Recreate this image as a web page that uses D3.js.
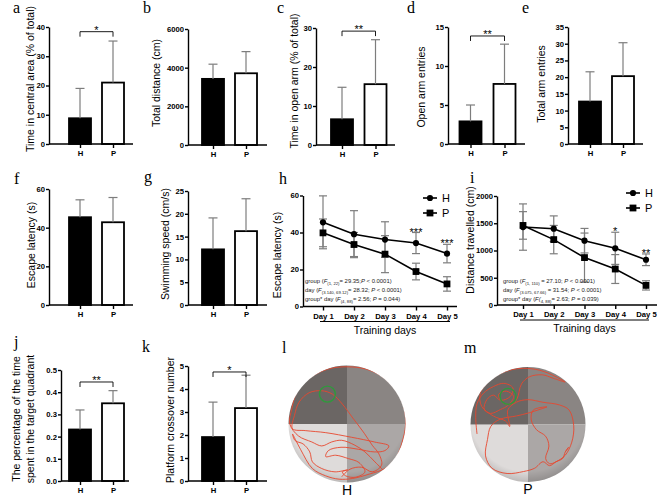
<!DOCTYPE html>
<html>
<head>
<meta charset="utf-8">
<script src="https://cdn.jsdelivr.net/npm/d3@7"></script>
<style>
  body { margin: 0; background: #fff; }
  text { font-family: "Liberation Sans", Arial, sans-serif; }
</style>
</head>
<body>
<svg id="fig" width="669" height="497"></svg>
<script>
// ---------- data ----------
const groups = ["H", "P"];

const centralMean = [8.8, 21.0],   centralSD = [10.2, 14.2];   // a
const distanceMean = [3420, 3710], distanceSD = [760, 1120];   // b
const openTimeMean = [6.6, 15.6],  openTimeSD = [8.2, 11.4];   // c
const openEntryMean = [2.9, 7.7],  openEntrySD = [2.1, 5.1];   // d
const totalEntryMean = [12.7, 20.3], totalEntrySD = [8.9, 10.0]; // e
const escapeMean = [45.4, 42.8],   escapeSD = [9.0, 12.8];     // f
const speedMean = [12.2, 16.2],    speedSD = [6.9, 7.1];       // g
const quadrantMean = [0.232, 0.35], quadrantSD = [0.088, 0.057]; // j
const crossMean = [1.91, 3.17],    crossSD = [1.52, 1.43];     // k

const days = ["Day 1", "Day 2", "Day 3", "Day 4", "Day 5"];
const latencyH = [45.5, 39.1, 36.2, 34.3, 28.6], latencyHSD = [14.3, 12.7, 9.6, 5.7, 5.0];
const latencyP = [39.8, 33.5, 28.3, 18.9, 12.2], latencyPSD = [7.5, 6.5, 10.0, 4.5, 3.9];
const latencyStars = ["", "", "", "***", "***"];
const travelH = [1430, 1400, 1180, 1040, 830], travelHSD = [425, 235, 225, 295, 107];
const travelP = [1460, 1200, 870, 660, 360],   travelPSD = [253, 260, 450, 265, 85];
const travelStars = ["", "", "", "*", "**"];

const statsLatency = [
  [["group ("], ["F", "i"], ["(1, 22)", "s"], ["= 29.35;"], ["P", "i"], [" < 0.0001)"]],
  [["day ("], ["F", "i"], ["(3.140, 69.12)", "s"], ["= 28.32; "], ["P", "i"], [" < 0.0001)"]],
  [["group* day ("], ["F", "i"], ["(4, 88)", "s"], ["= 2.56; "], ["P", "i"], [" = 0.044)"]]
];
const statsTravel = [
  [["group ("], ["F", "i"], ["(1, 110)", "s"], [" = 27.10; "], ["P", "i"], [" < 0.0001)"]],
  [["day ("], ["F", "i"], ["(3.075, 67.66)", "s"], [" = 31.54; "], ["P", "i"], [" < 0.0001)"]],
  [["group* day ("], ["F(", "i"], ["4, 88)", "s"], ["= 2.63; "], ["P", "i"], [" = 0.039)"]]
];

// swim paths in tracking-camera pixels (pool spans 10..362)
const trackH = [[170,345],[195,322],[230,316],[262,330],[290,310],[282,276],[262,250],[238,214],[205,170],[172,126],[142,96],[110,86],[72,92],[42,120],[28,160],[22,200],[62,206],[122,212],[200,226],[268,240],[312,252],[300,266],[268,270],[220,262],[168,256],[130,266],[122,284],[152,280],[190,290],[222,302],[240,330],[212,346],[182,342],[172,330],[188,324],[150,330],[110,320],[82,300],[74,270],[54,246],[30,236],[22,216],[46,262],[82,320],[122,342],[162,352],[202,350],[252,337],[300,320],[332,290],[352,240],[362,190],[356,130],[330,80],[290,42],[240,20],[190,14],[140,18],[92,36],[56,62],[34,92],[20,140],[14,186],[40,222],[80,240],[110,252],[140,240],[170,235],[210,250],[240,270],[270,300],[300,330]];
const trackP = [[30,215],[26,165],[30,122],[50,90],[80,70],[112,60],[140,74],[132,100],[102,112],[80,96],[60,110],[52,140],[72,152],[102,140],[124,128],[142,100],[120,84],[96,94],[110,120],[134,124],[152,108],[166,62],[190,40],[230,34],[262,44],[300,56],[272,40],[222,20],[172,14],[130,20],[90,36],[60,60],[40,90],[44,130],[80,160],[118,176],[130,192],[124,142],[150,118],[186,110],[232,118],[282,126],[312,142],[326,190],[320,240],[300,280],[272,300],[252,306],[240,290],[250,252],[240,222],[212,202],[196,172],[202,142],[244,132],[190,150],[150,160],[100,170],[72,192],[62,232],[56,282],[76,320],[122,336],[172,330],[206,320],[232,300],[252,312],[272,300],[292,290],[300,270],[310,256],[302,268]];
const platformH = [127, 96], platformP = [125, 100];

// ---------- helpers ----------
const svg = d3.select("#fig");
const errColor = "#7d7d7d";

function panelLetter(t, x, y) {
  svg.append("text").attr("x", x).attr("y", y)
    .style("font-family", "'Liberation Serif', 'Times New Roman', serif")
    .attr("font-size", 16).text(t);
}

function rotLabel(lines, xc, yc, size) {
  const g = svg.append("g").attr("transform", `translate(${xc + size * 0.35 - (lines.length - 1) * size * 0.7},${yc}) rotate(-90)`);
  lines.forEach((l, i) => g.append("text").attr("y", i * size * 1.35)
    .attr("text-anchor", "middle").attr("font-size", size).text(l));
}

function styleAxis(sel) {
  sel.selectAll("path, line").attr("stroke", "#000").attr("stroke-width", 1.4);
  sel.selectAll("text").attr("font-size", 7.7).attr("font-weight", "bold").attr("fill", "#000");
}

function errBar(g, x, yA, yB, cap) {
  g.append("line").attr("x1", x).attr("x2", x).attr("y1", yA).attr("y2", yB)
    .attr("stroke", errColor).attr("stroke-width", 1.2);
  g.append("line").attr("x1", x - cap).attr("x2", x + cap).attr("y1", yB).attr("y2", yB)
    .attr("stroke", errColor).attr("stroke-width", 1.2);
}

function barPanel(c) {
  const g = svg.append("g");
  const y = d3.scaleLinear().domain([0, c.max]).range([c.y0, c.yTop]);
  const x = d3.scalePoint().domain(groups).range([c.hx, c.px]);
  const bw = 22;
  const rows = groups.map((k, i) => ({ k, m: c.mean[i], sd: c.sd[i], i }));

  g.selectAll("rect").data(rows).join("rect")
    .attr("x", d => x(d.k) - bw / 2).attr("width", bw)
    .attr("y", d => y(d.m)).attr("height", d => y(0) - y(d.m))
    .attr("fill", d => d.i ? "#fff" : "#000")
    .attr("stroke", "#000").attr("stroke-width", 1.8);
  rows.forEach(d => errBar(g, x(d.k), y(d.m), y(d.m + d.sd), 4.5));

  const ya = g.append("g").attr("transform", `translate(${c.ax},0)`)
    .call(d3.axisLeft(y).tickValues(c.ticks).tickFormat(c.fmt || d3.format("d"))
      .tickSize(3).tickSizeOuter(0).tickPadding(1));
  styleAxis(ya);
  const xa = g.append("g").attr("transform", `translate(0,${c.y0})`)
    .call(d3.axisBottom(x).tickSize(4).tickPadding(3));
  xa.select(".domain").remove();
  styleAxis(xa);
  g.append("line").attr("x1", c.ax).attr("x2", c.xEnd).attr("y1", c.y0).attr("y2", c.y0)
    .attr("stroke", "#000").attr("stroke-width", 1.4);

  if (c.sig) {
    const by = y(c.sig[1]);
    g.append("path").attr("d", `M${x("H")},${by + 5}V${by}H${x("P")}V${by + 5}`)
      .attr("fill", "none").attr("stroke", "#000").attr("stroke-width", 0.9);
    g.append("text").attr("x", (x("H") + x("P")) / 2).attr("y", by + 2)
      .attr("text-anchor", "middle").attr("font-size", 11).text(c.sig[0]);
  }
  rotLabel(c.label, c.lx, c.ly, 10.5);
  panelLetter(c.letter, c.tx, c.ty);
}

function richText(g, x, y, segs, size) {
  const t = g.append("text").attr("x", x).attr("y", y).attr("font-size", size).attr("fill", "#222");
  let shifted = false;
  segs.forEach(s => {
    const ts = t.append("tspan").text(s[0]);
    if (s[1] === "i") ts.attr("font-style", "italic");
    if (s[1] === "s") { ts.attr("font-size", size * 0.72).attr("dy", size * 0.3); shifted = true; }
    else if (shifted) { ts.attr("dy", -size * 0.3); shifted = false; }
  });
}

function linePanel(c) {
  const g = svg.append("g");
  const y = d3.scaleLinear().domain([0, c.max]).range([c.y0, c.yTop]);
  const x = d3.scalePoint().domain(days).range([c.d1, c.d5]);
  const ser = [
    { v: c.h, sd: c.hsd, shape: "circle" },
    { v: c.p, sd: c.psd, shape: "square" }
  ];
  ser.forEach(s => days.forEach((d, i) => {
    errBar(g, x(d), y(s.v[i]), y(s.v[i] + s.sd[i]), 4);
    errBar(g, x(d), y(s.v[i]), y(s.v[i] - s.sd[i]), 4);
  }));
  const line = d3.line().x((v, i) => x(days[i])).y(v => y(v));
  ser.forEach(s => {
    g.append("path").attr("d", line(s.v)).attr("fill", "none")
      .attr("stroke", "#000").attr("stroke-width", 1.6);
    days.forEach((d, i) => marker(g, s.shape, x(d), y(s.v[i])));
  });
  days.forEach((d, i) => {
    if (!c.stars[i]) return;
    g.append("text").attr("x", x(d)).attr("y", y(c.h[i] + c.hsd[i]) + 3)
      .attr("text-anchor", "middle").attr("font-size", 11).text(c.stars[i]);
  });

  const ya = g.append("g").attr("transform", `translate(${c.ax},0)`)
    .call(d3.axisLeft(y).tickValues(c.ticks).tickFormat(d3.format("d"))
      .tickSize(3).tickSizeOuter(0).tickPadding(1));
  styleAxis(ya);
  const xa = g.append("g").attr("transform", `translate(0,${c.y0})`)
    .call(d3.axisBottom(x).tickSize(4).tickPadding(3));
  xa.select(".domain").remove();
  styleAxis(xa);
  g.append("line").attr("x1", c.ax).attr("x2", c.xEnd).attr("y1", c.y0).attr("y2", c.y0)
    .attr("stroke", "#000").attr("stroke-width", 1.4);
  g.append("line").attr("x1", c.d1 - 3).attr("x2", c.d5 + 3).attr("y1", c.y0 + 15).attr("y2", c.y0 + 15)
    .attr("stroke", "#000").attr("stroke-width", 1);
  g.append("text").attr("x", (c.d1 + c.d5) / 2).attr("y", c.y0 + 27)
    .attr("text-anchor", "middle").attr("font-size", 10.5).text("Training days");

  ["H", "P"].forEach((k, i) => {
    const ly = c.legY + i * 15;
    g.append("line").attr("x1", c.legX - 7).attr("x2", c.legX + 7).attr("y1", ly).attr("y2", ly)
      .attr("stroke", "#000").attr("stroke-width", 1.6);
    marker(g, i ? "square" : "circle", c.legX, ly);
    g.append("text").attr("x", c.legX + 12).attr("y", ly + 4).attr("font-size", 11).text(k);
  });
  c.stats.forEach((segs, i) => richText(g, c.sx, c.sy + i * 9, segs, 5.9));

  rotLabel(c.label, c.lx, c.ly, 10.5);
  panelLetter(c.letter, c.tx, c.ty);
}

function marker(g, shape, cx, cy) {
  if (shape === "circle") g.append("circle").attr("cx", cx).attr("cy", cy).attr("r", 3.1).attr("fill", "#000");
  else g.append("rect").attr("x", cx - 3.4).attr("y", cy - 3.4).attr("width", 6.8).attr("height", 6.8).attr("fill", "#000");
}

const defs = svg.append("defs");
const rim = defs.append("radialGradient").attr("id", "rim").attr("cx", "50%").attr("cy", "40%").attr("r", "62%");
rim.append("stop").attr("offset", "82%").attr("stop-color", "#000").attr("stop-opacity", 0);
rim.append("stop").attr("offset", "100%").attr("stop-color", "#000").attr("stop-opacity", 0.18);

function poolPanel(c) {
  const g = svg.append("g").attr("transform", `translate(${c.cx},${c.cy})`);
  const quads = [
    { a0: 0, a1: Math.PI / 2, col: "#8a8583" },
    { a0: Math.PI / 2, a1: Math.PI, col: "#aba7a6" },
    { a0: Math.PI, a1: Math.PI * 1.5, col: "#dedbda" },
    { a0: Math.PI * 1.5, a1: Math.PI * 2, col: "#6b6664" }
  ];
  const arc = d3.arc().innerRadius(0).outerRadius(c.r);
  g.selectAll("path.q").data(quads).join("path")
    .attr("d", d => arc({ startAngle: d.a0, endAngle: d.a1 })).attr("fill", d => d.col);
  g.append("circle").attr("r", c.r).attr("fill", "url(#rim)");

  const sx = d3.scaleLinear().domain([10, 362]).range([-c.r, c.r]);
  const sy = d3.scaleLinear().domain([10, 362]).range([-c.r, c.r]);
  const clipId = "clip" + c.letter;
  defs.append("clipPath").attr("id", clipId).append("circle").attr("cx", c.cx).attr("cy", c.cy).attr("r", c.r);
  svg.append("g").attr("clip-path", `url(#${clipId})`)
    .append("path")
    .attr("transform", `translate(${c.cx},${c.cy})`)
    .attr("d", d3.line().x(d => sx(d[0])).y(d => sy(d[1])).curve(d3.curveCatmullRom.alpha(0.5))(c.track))
    .attr("fill", "none").attr("stroke", "#e8472f").attr("stroke-width", 0.9);
  svg.append("circle").attr("cx", c.cx + sx(c.plat[0])).attr("cy", c.cy + sy(c.plat[1])).attr("r", 8)
    .attr("fill", "none").attr("stroke", "#2f9a3c").attr("stroke-width", 1.4);
  svg.append("text").attr("x", c.cx).attr("y", c.cy + c.r + 12).attr("text-anchor", "middle")
    .attr("font-size", 14).text(c.name);
  panelLetter(c.letter, c.tx, c.ty);
}

// ---------- panels ----------
barPanel({ letter: "a", tx: 13, ty: 13, ax: 49, xEnd: 133, y0: 144, yTop: 27, max: 40, ticks: [0, 10, 20, 30, 40],
  hx: 80, px: 113, mean: centralMean, sd: centralSD, sig: ["*", 38.4],
  label: ["Time in central area (% of total)"], lx: 30.5, ly: 79 });
barPanel({ letter: "b", tx: 143, ty: 13, ax: 188, xEnd: 267, y0: 145, yTop: 29, max: 6000, ticks: [0, 2000, 4000, 6000],
  hx: 213, px: 246, mean: distanceMean, sd: distanceSD,
  label: ["Total distance (cm)"], lx: 156, ly: 83 });
barPanel({ letter: "c", tx: 277, ty: 13, ax: 316, xEnd: 395, y0: 145, yTop: 28, max: 30, ticks: [0, 10, 20, 30],
  hx: 342, px: 375.5, mean: openTimeMean, sd: openTimeSD, sig: ["**", 29.2],
  label: ["Time in open arm (% of total)"], lx: 294, ly: 81 });
barPanel({ letter: "d", tx: 407, ty: 13, ax: 448, xEnd: 525, y0: 144, yTop: 27, max: 15, ticks: [0, 5, 10, 15],
  hx: 470.5, px: 504.5, mean: openEntryMean, sd: openEntrySD, sig: ["**", 13.85],
  label: ["Open arm entries"], lx: 421, ly: 87 });
barPanel({ letter: "e", tx: 522, ty: 13, ax: 568, xEnd: 643, y0: 144, yTop: 27, max: 35, ticks: [0, 5, 10, 15, 20, 25, 30, 35],
  hx: 590, px: 623, mean: totalEntryMean, sd: totalEntrySD,
  label: ["Total arm entries"], lx: 541, ly: 84 });

barPanel({ letter: "f", tx: 14, ty: 184, ax: 49, xEnd: 133, y0: 305, yTop: 189, max: 60, ticks: [0, 20, 40, 60],
  hx: 80, px: 113, mean: escapeMean, sd: escapeSD,
  label: ["Escape latency (s)"], lx: 31, ly: 245 });
barPanel({ letter: "g", tx: 144, ty: 182, ax: 188, xEnd: 267, y0: 305, yTop: 191, max: 25, ticks: [0, 5, 10, 15, 20, 25],
  hx: 213, px: 246, mean: speedMean, sd: speedSD,
  label: ["Swimming speed (cm/s)"], lx: 165, ly: 244 });

linePanel({ letter: "h", tx: 279, ty: 184, ax: 303, xEnd: 457, y0: 306.5, yTop: 195.5, max: 60, ticks: [0, 20, 40, 60],
  d1: 323, d5: 447, h: latencyH, hsd: latencyHSD, p: latencyP, psd: latencyPSD, stars: latencyStars,
  legX: 430, legY: 198, stats: statsLatency, sx: 305, sy: 283,
  label: ["Escape latency (s)"], lx: 277, ly: 255 });
linePanel({ letter: "i", tx: 470, ty: 183, ax: 497, xEnd: 657, y0: 305, yTop: 196, max: 2000, ticks: [0, 500, 1000, 1500, 2000],
  d1: 523, d5: 646, h: travelH, hsd: travelHSD, p: travelP, psd: travelPSD, stars: travelStars,
  legX: 633, legY: 193, stats: statsTravel, sx: 503, sy: 283,
  label: ["Distance travelled (cm)"], lx: 470, ly: 240 });

barPanel({ letter: "j", tx: 14, ty: 347, ax: 61, xEnd: 129, y0: 481, yTop: 370, max: 0.5, ticks: [0, 0.1, 0.2, 0.3, 0.4, 0.5],
  fmt: d3.format(".1f"), hx: 80, px: 113, mean: quadrantMean, sd: quadrantSD, sig: ["**", 0.446],
  label: ["The percentage of the time", "spent in the target quadrant"], lx: 24, ly: 419 });
barPanel({ letter: "k", tx: 142, ty: 352, ax: 188, xEnd: 267, y0: 481, yTop: 366, max: 5, ticks: [0, 1, 2, 3, 4, 5],
  hx: 213, px: 246, mean: crossMean, sd: crossSD, sig: ["*", 4.74],
  label: ["Platform crossover number"], lx: 170, ly: 420 });

poolPanel({ letter: "l", tx: 282, ty: 353, cx: 347, cy: 424, r: 58.5, track: trackH, plat: platformH, name: "H" });
poolPanel({ letter: "m", tx: 464, ty: 353, cx: 528, cy: 424.5, r: 57.5, track: trackP, plat: platformP, name: "P" });
</script>
</body>
</html>
